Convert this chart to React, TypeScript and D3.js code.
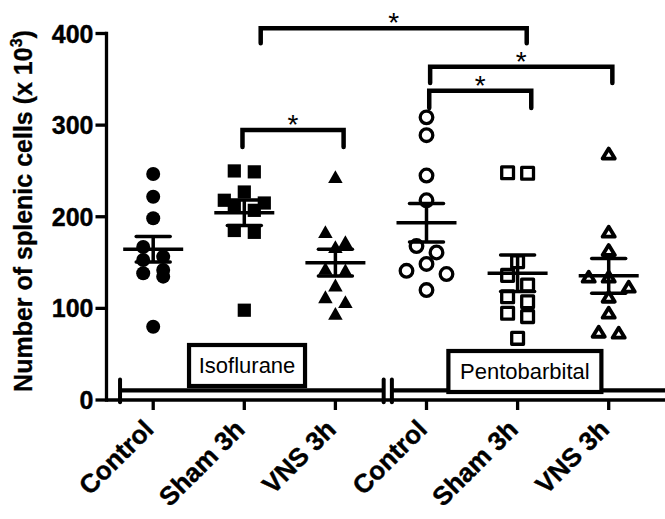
import React from "react";
import * as d3 from "d3";

// ---------- data ----------
const categories = ["Control", "Sham 3h", "VNS 3h", "Control", "Sham 3h", "VNS 3h"];
const groupNames = ["Isoflurane", "Pentobarbital"];
const yTicks = [0, 100, 200, 300, 400];

const isoControl = [246.6, 221.9, 198.3, 167, 156.4, 152.8, 141.9, 138.3, 134.6, 80];
const isoSham = [250, 249, 227, 218, 215, 212, 207, 185, 183, 98];
const isoVNS = [243.7, 183.7, 172.8, 167.3, 143.7, 141.9, 125.5, 112.7, 107.3, 94.6];
const pentoControl = [308.5, 289, 245, 218, 168, 161, 148.5, 141, 137.5, 120];
const pentoSham = [248, 247.4, 151, 136, 125.5, 112.7, 107.3, 94.6, 91, 67.3];
const pentoVNS = [269, 183.7, 163.7, 134.6, 134.6, 123.7, 112.7, 95.3, 74.5, 73.5];

const means = [164.5, 204.4, 149.9, 193.5, 138.3, 135.5];
const sems = [14, 14, 14.6, 21, 20, 19];

const seriesValues = [isoControl, isoSham, isoVNS, pentoControl, pentoSham, pentoVNS];
const seriesShapes = ["circle", "square", "triangle", "circle", "square", "triangle"];
const seriesFilled = [true, true, true, false, false, false];

// significance brackets: category positions (fractional) and value levels
const bracketFrom = [1.18, 3.04, 3.03, 0.98];
const bracketTo = [4.1, 5.04, 4.15, 2.09];
const bracketLevel = [405.6, 363.7, 337.5, 294.7];
const bracketDrop = [389.3, 346, 318.7, 276];
const bracketLabel = ["*", "*", "*", "*"];

// group bars along the bottom (category positions)
const groupStart = [-0.364, 2.62];
const groupEnd = [2.53, 6.2];
const groupLabelPos = [1.03, 4.08];

// ---------- layout ----------
const W = 665;
const H = 519;
const FONT = "'Liberation Sans', Arial, Helvetica, sans-serif";

const y = d3.scaleLinear().domain([0, 400]).range([400, 33.5]);
const xIdx = d3.scaleLinear().domain([0, 5]).range([153.2, 608.7]);
const xPoint = d3
  .scalePoint<number>()
  .domain(d3.range(categories.length))
  .range([153.2, 608.7]);

function swarm(vals: number[], rowGap: number, spacing: number) {
  const order = vals.map((_, i) => i).sort((a, b) => vals[b] - vals[a]);
  const rows: number[][] = [];
  let cur: number[] = [];
  let startY = -Infinity;
  for (const i of order) {
    const yy = y(vals[i]);
    if (cur.length && yy - startY < rowGap) cur.push(i);
    else {
      if (cur.length) rows.push(cur);
      cur = [i];
      startY = yy;
    }
  }
  if (cur.length) rows.push(cur);
  const off = new Array(vals.length).fill(0);
  rows.forEach((r) => {
    const slots = r
      .map((_, k) => (k - (r.length - 1) / 2) * spacing)
      .sort((a, b) => Math.abs(a) - Math.abs(b) || a - b);
    r.forEach((i, k) => (off[i] = slots[k]));
  });
  return off;
}

function Marker({ shape, filled, cx, cy }: { shape: string; filled: boolean; cx: number; cy: number }) {
  if (shape === "circle") {
    return filled ? (
      <circle cx={cx} cy={cy} r={7} fill="#000" />
    ) : (
      <circle cx={cx} cy={cy} r={6.3} fill="none" stroke="#000" strokeWidth={3.3} />
    );
  }
  if (shape === "square") {
    return filled ? (
      <rect x={cx - 6.6} y={cy - 6.6} width={13.2} height={13.2} fill="#000" />
    ) : (
      <rect x={cx - 5.9} y={cy - 5.9} width={11.8} height={11.8} fill="none" stroke="#000" strokeWidth={3.3} strokeLinejoin="round" />
    );
  }
  if (filled) {
    const w = 14.5, h = 12.8;
    const p = d3.path();
    p.moveTo(cx, cy - h / 2);
    p.lineTo(cx + w / 2, cy + h / 2);
    p.lineTo(cx - w / 2, cy + h / 2);
    p.closePath();
    return <path d={p.toString()} fill="#000" />;
  }
  const w = 12.2, h = 10;
  const p = d3.path();
  p.moveTo(cx, cy - h / 2);
  p.lineTo(cx + w / 2, cy + h / 2);
  p.lineTo(cx - w / 2, cy + h / 2);
  p.closePath();
  return <path d={p.toString()} fill="none" stroke="#000" strokeWidth={3.8} strokeLinejoin="round" />;
}

export default function App() {
  const x0 = 106.5; // y-axis position
  return (
    <svg
      width={W}
      height={H}
      viewBox={`0 0 ${W} ${H}`}
      style={{ position: "absolute", left: 0, top: 0, background: "#fff" }}
    >
      <rect width={W} height={H} fill="#fff" />
      {/* y axis */}
      <line x1={x0} x2={x0} y1={y(400)} y2={y(0)} stroke="#000" strokeWidth={3.3} strokeLinecap="square" />
      {yTicks.map((t) => (
        <g key={t}>
          <line x1={x0 - 11} x2={x0} y1={y(t)} y2={y(t)} stroke="#000" strokeWidth={3.3} />
          <text
            x={x0 - 13}
            y={y(t)}
            dy="0.36em"
            textAnchor="end"
            fontFamily={FONT}
            fontWeight="bold"
            fontSize={25}
            stroke="#000"
            strokeWidth={0.4}
          >
            {t}
          </text>
        </g>
      ))}
      {/* x axis */}
      <line x1={x0} x2={W + 5} y1={y(0)} y2={y(0)} stroke="#000" strokeWidth={3.3} />
      {categories.map((c, i) => (
        <g key={i}>
          <line x1={xPoint(i)!} x2={xPoint(i)!} y1={y(0)} y2={y(0) + 10} stroke="#000" strokeWidth={3.3} />
          <text
            transform={`translate(${xPoint(i)! + 2},${431}) rotate(-45)`}
            textAnchor="end"
            fontFamily={FONT}
            fontWeight="bold"
            fontSize={26}
            stroke="#000"
            strokeWidth={0.4}
          >
            {c}
          </text>
        </g>
      ))}

      {/* y axis title */}
      <text
        transform={`translate(32,${211}) rotate(-90)`}
        textAnchor="middle"
        fontFamily={FONT}
        fontWeight="bold"
        fontSize={25}
        stroke="#000"
        strokeWidth={0.3}
      >
        Number of splenic cells (x 10
        <tspan fontSize={16} dy={-10}>3</tspan>
        <tspan dy={10}>)</tspan>
      </text>

      {/* group bars */}
      {groupNames.map((g, gi) => {
        const xa = xIdx(groupStart[gi]);
        const xb = xIdx(groupEnd[gi]);
        const yb = y(10.4);
        return (
          <g key={g}>
            <line x1={xa} x2={xb} y1={yb} y2={yb} stroke="#000" strokeWidth={4.3} />
            <line x1={xa} x2={xa} y1={y(22.5)} y2={y(-2.5)} stroke="#000" strokeWidth={4} strokeLinecap="round" />
            {groupEnd[gi] < 5.5 && (
              <line x1={xb} x2={xb} y1={y(22.5)} y2={y(-2.5)} stroke="#000" strokeWidth={4} strokeLinecap="round" />
            )}
          </g>
        );
      })}
      {/* group labels */}
      {groupNames.map((g, gi) => {
        const cx = xIdx(groupLabelPos[gi]);
        const bw = gi === 0 ? 116 : 153;
        const top = gi === 0 ? 345 : 351;
        const bh = 41;
        return (
          <g key={g}>
            <rect x={cx - bw / 2} y={top} width={bw} height={bh} fill="#fff" stroke="#000" strokeWidth={4.2} />
            <text
              x={cx}
              y={top + bh / 2}
              dy="0.36em"
              textAnchor="middle"
              fontFamily={FONT}
              fontSize={22}
            >
              {g}
            </text>
          </g>
        );
      })}

      {/* points */}
      {seriesValues.map((vals, si) => {
        const off = swarm(vals, 11, 20);
        return (
          <g key={si}>
            {vals.map((v, j) => (
              <Marker
                key={j}
                shape={seriesShapes[si]}
                filled={seriesFilled[si]}
                cx={xPoint(si)! + off[j]}
                cy={y(v)}
              />
            ))}
          </g>
        );
      })}

      {/* mean and SEM */}
      {means.map((m, si) => {
        const cx = xPoint(si)!;
        const s = sems[si];
        return (
          <g key={si} stroke="#000" strokeWidth={3.5}>
            <line x1={cx - 30} x2={cx + 30} y1={y(m)} y2={y(m)} />
            <line x1={cx} x2={cx} y1={y(m + s)} y2={y(m - s)} />
            <line x1={cx - 17} x2={cx + 17} y1={y(m + s)} y2={y(m + s)} strokeLinecap="round" />
            <line x1={cx - 17} x2={cx + 17} y1={y(m - s)} y2={y(m - s)} strokeLinecap="round" />
          </g>
        );
      })}

      {/* significance brackets */}
      {bracketFrom.map((f, bi) => {
        const xa = xIdx(f);
        const xb = xIdx(bracketTo[bi]);
        const yl = y(bracketLevel[bi]);
        const yd = y(bracketDrop[bi]);
        const p = d3.path();
        p.moveTo(xa, yd);
        p.lineTo(xa, yl);
        p.lineTo(xb, yl);
        p.lineTo(xb, yd);
        return (
          <g key={bi}>
            <path d={p.toString()} fill="none" stroke="#000" strokeWidth={4.5} strokeLinecap="round" strokeLinejoin="miter" />
            <text
              x={(xa + xb) / 2}
              y={yl - 12 + 0.575 * 28}
              textAnchor="middle"
              fontFamily={FONT}
              fontSize={28}
            >
              {bracketLabel[bi]}
            </text>
          </g>
        );
      })}
    </svg>
  );
}
